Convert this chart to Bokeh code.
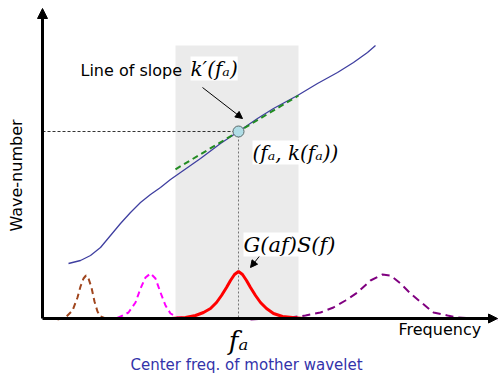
from bokeh.plotting import figure
from bokeh.models import Range1d, Arrow, NormalHead, Label
from bokeh.embed import file_html
from bokeh.resources import INLINE

# Dispersion relation k(f): frequency vs wave-number (arbitrary units)
curve_f = [26, 38, 48, 58, 68, 78, 88, 98, 108, 118, 128, 138, 158, 178, 196, 215, 231, 255, 275, 295, 311, 325, 333]
curve_k = [55, 58, 63, 71, 83, 95, 106, 116, 124, 131, 139, 146, 160, 175, 187, 200, 210, 223, 235, 246, 256, 266, 273]

# Centre frequency of the mother wavelet and the local slope k'(fa)
fa = 196
k_fa = 187
slope = 0.6
tangent_f = [133, 256]

# Band covered by the wavelet
band_left, band_right, band_top = 133, 256, 273

# Spectra: G(af)S(f) and neighbouring scales
red_f = [129, 143, 153, 161, 168, 174, 179, 184, 188, 192, 196, 200, 204, 208, 213, 218, 224, 231, 240, 250, 261]
red_s = [0, 1, 3, 6, 10, 16, 23, 31, 38, 44, 47, 44, 38, 31, 23, 16, 10, 5, 2, 1, 0]

brown_f = [15, 23, 30, 35, 38, 41, 43.5, 46, 49, 52, 55, 58, 63]
brown_s = [-1, 1, 8, 21, 32, 40, 43, 40, 31, 17, 7, 2, 0]

magenta_f = [65, 76, 86, 93, 98, 103, 108, 113, 118, 123, 128, 135, 145]
magenta_s = [0, 1, 6, 16, 30, 41, 45, 40, 26, 13, 5, 1, 1]

purple_f = [208, 248, 263, 278, 291, 303, 315, 328, 340, 348, 358, 368, 380, 391, 405, 415, 455]
purple_s = [-1, 1, 3, 6, 11, 18, 26, 38, 44, 43, 35, 25, 15, 6, 3, 1, -1]

f_max, k_max = 455, 310

p = figure(width=499, height=383, x_range=Range1d(-42, 457), y_range=Range1d(-65, 318),
           output_backend="svg", toolbar_location=None, x_axis_type=None, y_axis_type=None,
           min_border=0, min_border_left=0, min_border_right=0, min_border_top=0, min_border_bottom=0)
p.grid.visible = False
p.outline_line_color = None
p.background_fill_color = "white"

# shaded band
p.quad(left=band_left, right=band_right, bottom=0, top=band_top, fill_color="#ebebeb", line_color=None)

# guide lines to the tangent point
p.line([0, fa], [k_fa, k_fa], line_color="black", line_width=0.8, line_dash="3 2")
p.line([fa, fa], [k_fa, 0], line_color="#555555", line_width=0.8, line_dash="2 2")

# axes with arrow heads
p.add_layout(Arrow(end=NormalHead(size=10, fill_color="black", line_color="black"),
                   x_start=0, y_start=0, x_end=0, y_end=k_max, line_width=3, line_color="black"))
p.add_layout(Arrow(end=NormalHead(size=9, fill_color="black", line_color="black"),
                   x_start=0, y_start=0, x_end=f_max, y_end=0, line_width=3, line_color="black"))

# spectra
p.line(purple_f, purple_s, line_color="#800080", line_width=2, line_dash="8 5")
p.line(brown_f, brown_s, line_color="#a0461e", line_width=2, line_dash="6 4")
p.line(magenta_f, magenta_s, line_color="#ff00ff", line_width=2, line_dash="6 4")
p.line(red_f, red_s, line_color="#ff0000", line_width=3)

# dispersion curve and tangent
p.line(curve_f, curve_k, line_color="#3f3fa0", line_width=1.3)
tangent_k = [k_fa + slope * (f - fa) for f in tangent_f]
p.line(tangent_f, tangent_k, line_color="#228b22", line_width=2, line_dash="6 4")
p.scatter([fa], [k_fa], size=11, fill_color="#b0dde6", line_color="#5a6a6a", line_width=1)

# pointer arrows
p.add_layout(Arrow(end=NormalHead(size=7, fill_color="black", line_color="black"),
                   x_start=160, y_start=231, x_end=200, y_end=200, line_width=1, line_color="black"))
p.add_layout(Arrow(end=NormalHead(size=7, fill_color="black", line_color="black"),
                   x_start=223, y_start=70, x_end=208, y_end=51, line_width=1, line_color="black"))

sans = "DejaVu Sans"
serif = "DejaVu Serif"
ink = "black"

p.add_layout(Label(x=38, y=248, text="Line of slope", text_font=sans, text_font_size="16px",
                   text_baseline="middle", text_color=ink))
p.add_layout(Label(x=148, y=250, text="k\u2032(f\u2090)", text_font=serif, text_font_style="italic",
                   text_font_size="20px", text_baseline="middle", text_color=ink,
                   background_fill_color="white"))
p.add_layout(Label(x=210, y=166, text="(f\u2090, k(f\u2090))", text_font=serif, text_font_style="italic",
                   text_font_size="20px", text_baseline="middle", text_color=ink,
                   background_fill_color="white"))
p.add_layout(Label(x=201, y=74, text="G(af)S(f)", text_font=serif, text_font_style="italic",
                   text_font_size="21px", text_baseline="middle", text_color=ink,
                   background_fill_color="white"))
p.add_layout(Label(x=fa, y=-22, text="f\u2090", text_font=serif, text_font_style="italic",
                   text_font_size="26px", text_baseline="middle", text_align="center", text_color=ink))
p.add_layout(Label(x=356, y=-11, text="Frequency", text_font=sans, text_font_size="16px",
                   text_baseline="middle", text_color=ink))
p.add_layout(Label(x=-26, y=143, text="Wave-number", text_font=sans, text_font_size="16px",
                   text_baseline="middle", text_align="center", angle=90, angle_units="deg",
                   text_color=ink))
p.add_layout(Label(x=204, y=-46, text="Center freq. of mother wavelet", text_font=sans,
                   text_font_size="15px", text_baseline="middle", text_align="center",
                   text_color="#3333aa"))

open("out.html", "w").write(file_html(p, INLINE))
